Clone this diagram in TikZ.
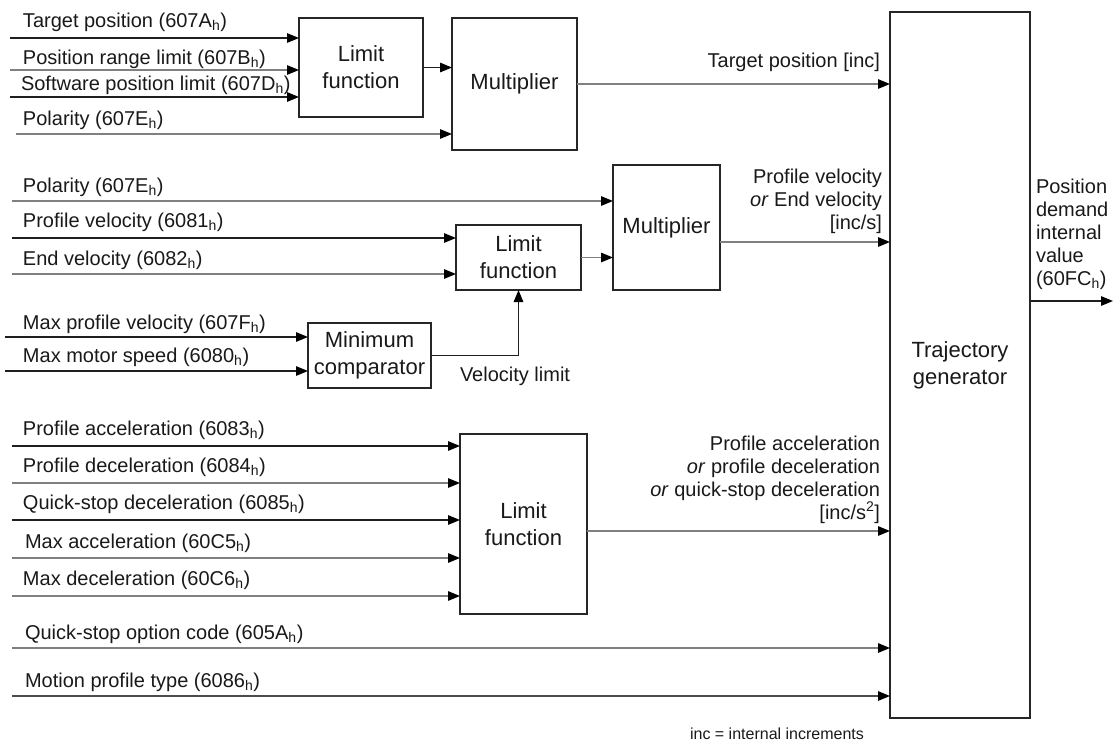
\documentclass[tikz,border=0pt]{standalone}
\usepackage{fontspec}
\setmainfont{Liberation Sans}
\usetikzlibrary{arrows.meta}
\definecolor{lndark}{gray}{0.12}
\definecolor{lngrey}{gray}{0.5}
\begin{document}
\begin{tikzpicture}[x=1pt,y=-1pt,
  every node/.style={font=\fontsize{20}{23}\selectfont, inner sep=0pt, outer sep=0pt, text=black!90},
  blk/.style={draw=black!85, line width=1.4pt, fill=white, font=\fontsize{22}{27}\selectfont, align=center},
  lbl/.style={anchor=base west},
  ar/.style={line width=1.4pt, draw=lndark, -{Triangle[length=12pt,width=9.5pt,color=black]}},
  ag/.style={ar, draw=lngrey},
]
\useasboundingbox (0,0) rectangle (1120,742);

% ---------- blocks ----------
\node[blk, minimum width=124pt, minimum height=99pt] (lim1) at (361,67.5) {Limit\\function};
\node[blk, minimum width=125pt, minimum height=132pt] (mult1) at (514.5,84) {Multiplier};
\node[blk, minimum width=140pt, minimum height=706pt] (traj) at (960,365) {Trajectory\\generator};
\node[blk, minimum width=125pt, minimum height=65pt] (lim2) at (518.5,257.5) {Limit\\function};
\node[blk, minimum width=107pt, minimum height=125pt] (mult2) at (666.5,227.5) {Multiplier};
\node[blk, minimum width=123pt, minimum height=65pt] (minc) at (369.5,355.5) {Minimum\\comparator};
\node[blk, minimum width=127pt, minimum height=180pt] (lim3) at (523.5,524) {Limit\\function};

% ---------- top section ----------
\node[lbl] (t1) at (23,27) {Target position (607A\textsubscript{h})};
\node[lbl] (t2) at (23,64) {Position range limit (607B\textsubscript{h})};
\node[lbl] (t3) at (21,90) {Software position limit (607D\textsubscript{h})};
\node[lbl] (t4) at (23,125) {Polarity (607E\textsubscript{h})};
\coordinate (a1) at (10,38);
\coordinate (a2) at (10,70);
\coordinate (a3) at (10,97);
\coordinate (a4) at (16,134);
\draw[ar] (a1) -- (a1 -| lim1.west);
\draw[ag] (a2) -- (a2 -| lim1.west);
\draw[ar] (a3) -- (a3 -| lim1.west);
\draw[ag] (a4) -- (a4 -| mult1.west);
\draw[ar] (lim1.east) -- (lim1.east -| mult1.west);
\draw[ag] (mult1.east) -- (mult1.east -| traj.west);
\node[anchor=base east] (tpinc) at (880,67) {Target position [inc]};

% ---------- middle section ----------
\node[lbl] (m1) at (23,192) {Polarity (607E\textsubscript{h})};
\node[lbl] (m2) at (23,227) {Profile velocity (6081\textsubscript{h})};
\node[lbl] (m3) at (23,265) {End velocity (6082\textsubscript{h})};
\node[lbl] (m4) at (23,329) {Max profile velocity (607F\textsubscript{h})};
\node[lbl] (m5) at (23,362) {Max motor speed (6080\textsubscript{h})};
\coordinate (b1) at (12,201);
\coordinate (b2) at (12,238);
\coordinate (b3) at (12,274);
\coordinate (b4) at (5,337);
\coordinate (b5) at (5,371);
\draw[ag] (b1) -- (b1 -| mult2.west);
\draw[ar] (b2) -- (b2 -| lim2.west);
\draw[ag] (b3) -- (b3 -| lim2.west);
\draw[ar] (b4) -- (b4 -| minc.west);
\draw[ar] (b5) -- (b5 -| minc.west);
\draw[ag] (lim2.east) -- (lim2.east -| mult2.west);
\draw[ar] (minc.east) -| (lim2.south);
\node[lbl] (vlim) at (460,381) {Velocity limit};
\path (mult2.east) ++(0,14.5) coordinate (m2o);
\draw[ag] (m2o) -- (m2o -| traj.west);
\node[anchor=base east, align=right] (pvlab) at (882,229) {Profile velocity\\\textit{or} End velocity\\{}[inc/s]};

% ---------- output ----------
\coordinate (out) at (1113,301);
\draw[ar] (traj.east |- out) -- (out);
\node[anchor=base west, align=left] (outlab) at (1036,285) {Position\\demand\\internal\\value\\(60FC\textsubscript{h})};

% ---------- bottom section ----------
\node[lbl] (c1) at (23,435) {Profile acceleration (6083\textsubscript{h})};
\node[lbl] (c2) at (23,472) {Profile deceleration (6084\textsubscript{h})};
\node[lbl] (c3) at (23,509) {Quick-stop deceleration (6085\textsubscript{h})};
\node[lbl] (c4) at (25,548) {Max acceleration (60C5\textsubscript{h})};
\node[lbl] (c5) at (23,585) {Max deceleration (60C6\textsubscript{h})};
\node[lbl] (c6) at (25,639) {Quick-stop option code (605A\textsubscript{h})};
\node[lbl] (c7) at (25,687) {Motion profile type (6086\textsubscript{h})};
\coordinate (d1) at (12,446);
\coordinate (d2) at (12,483);
\coordinate (d3) at (12,520);
\coordinate (d4) at (12,558);
\coordinate (d5) at (12,596);
\coordinate (d6) at (12,648);
\coordinate (d7) at (12,696);
\draw[ar] (d1) -- (d1 -| lim3.west);
\draw[ag] (d2) -- (d2 -| lim3.west);
\draw[ar] (d3) -- (d3 -| lim3.west);
\draw[ag] (d4) -- (d4 -| lim3.west);
\draw[ag] (d5) -- (d5 -| lim3.west);
\draw[ag] (d6) -- (d6 -| traj.west);
\draw[ar, draw=black!70] (d7) -- (d7 -| traj.west);
\path (lim3.east) ++(0,7) coordinate (l3o);
\draw[ag] (l3o) -- (l3o -| traj.west);
\node[anchor=base east, align=right] (acclab) at (880,519) {Profile acceleration\\\textit{or} profile deceleration\\\textit{or} quick-stop deceleration\\{}[inc/s\textsuperscript{2}]};

\node[font=\fontsize{16}{18}\selectfont, anchor=base] (note) at (777,739) {inc = internal increments};
\end{tikzpicture}
\end{document}
